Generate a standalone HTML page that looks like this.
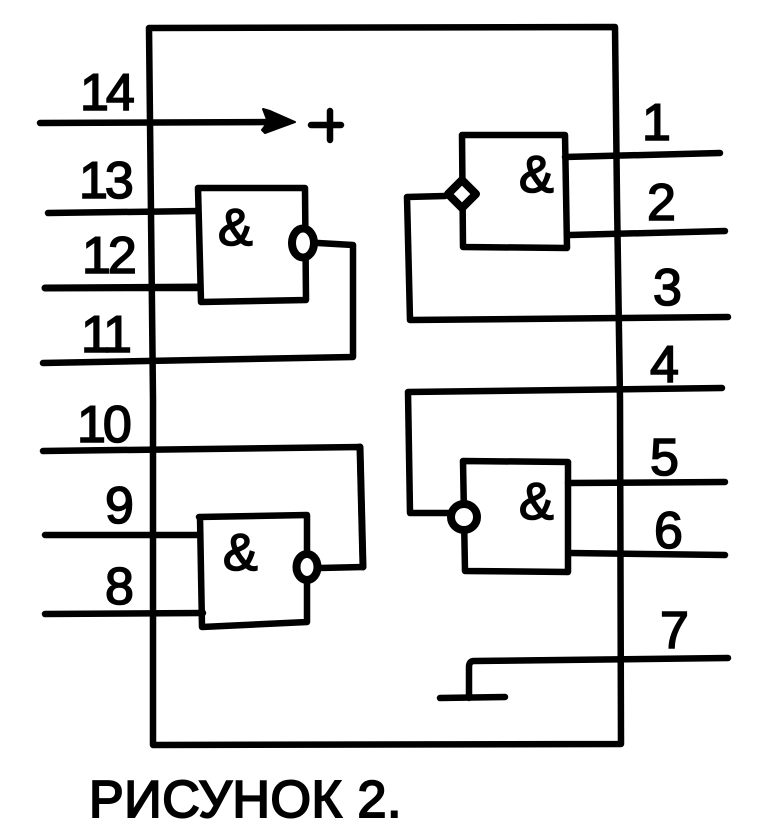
<!DOCTYPE html>
<html>
<head>
<meta charset="utf-8">
<style>
html,body{margin:0;padding:0;background:#fff;}
svg{display:block;}
text{font-family:"Liberation Sans",sans-serif;font-weight:normal;fill:#000;stroke:#000;stroke-width:1.6;}
</style>
</head>
<body>
<svg width="762" height="838" viewBox="0 0 762 838" xmlns="http://www.w3.org/2000/svg">
<g fill="none" stroke="#000" stroke-width="6.5" stroke-linejoin="round" stroke-linecap="round">
<!-- main box -->
<path d="M149 28 L615 27 L617 200 L620 400 L621 744 L153 745 L153 400 Z"/>
<!-- pin 14 -->
<path d="M40 123 L275 122"/>
<path d="M263 109 L270 111 L295 122 L265 133 L262 130 L268 122 Z" fill="#000" stroke-width="2"/>
<path d="M311 125 L341 125 M330 111 L330 140"/>
<!-- gate 13 12 11 -->
<path d="M198 188 L305 188 L306 300 L201 302 Z"/>
<path d="M48 213 L198 211 M45 288 L200 288 M43 363 L353 357 L353 245 L318 243"/>
<path d="M45 288 L200 287" stroke-width="7"/>
<ellipse cx="303" cy="243" rx="11" ry="14.5" stroke-width="8" fill="#fff"/>
<!-- gate 9 8 10 -->
<path d="M199 517 L307 515 L307 622 L202 627 L200 517"/>
<path d="M45 535 L200 535 M45 614 L203 613 M43 451 L360 447 L363 567 L320 568"/>
<path d="M360 447 L363 567" stroke-width="7"/>
<ellipse cx="307" cy="567" rx="10.5" ry="13" stroke-width="8" fill="#fff"/>
<!-- gate 1 2 3 -->
<path d="M462 135 L565 135 L567 248 L463 247 Z"/>
<path d="M565 157 L720 153 M570 235 L725 231 M445 196 L407 197 L410 320 L728 317"/>
<path d="M448 194 L462 180 L476 194 L462 208 Z" fill="#fff" stroke-width="8"/>
<!-- gate 4 5 6 -->
<path d="M463 461 L568 462 L568 572 L465 571 Z"/>
<path d="M568 483 L725 482 M570 553 L725 555 M722 388 L408 392 L410 513 L448 513"/>
<circle cx="464" cy="517" r="13" stroke-width="8" fill="#fff"/>
<!-- pin 7 ground -->
<path d="M728 658 L474 661 Q469 661 469 667 L469 698 M440 698 L505 697"/>
</g>
<g font-size="52">
<text x="80" y="110" letter-spacing="-3">14</text>
<text x="79" y="198" letter-spacing="-3">13</text>
<text x="82" y="273" letter-spacing="-3">12</text>
<text x="81" y="352" letter-spacing="-3">11</text>
<text x="77" y="442" letter-spacing="-3">10</text>
<text x="105" y="523">9</text>
<text x="105" y="604">8</text>
<text x="642" y="140">1</text>
<text x="647" y="220">2</text>
<text x="653" y="305">3</text>
<text x="650" y="382">4</text>
<text x="650" y="475">5</text>
<text x="654" y="548">6</text>
<text x="660" y="648">7</text>
<text x="218" y="245">&amp;</text>
<text x="223" y="570">&amp;</text>
<text x="519" y="192">&amp;</text>
<text x="519" y="519">&amp;</text>
</g>
<text x="89" y="817" font-size="52" letter-spacing="0.6" style="stroke-width:2">РИСУНОК 2.</text>
</svg>
</body>
</html>
